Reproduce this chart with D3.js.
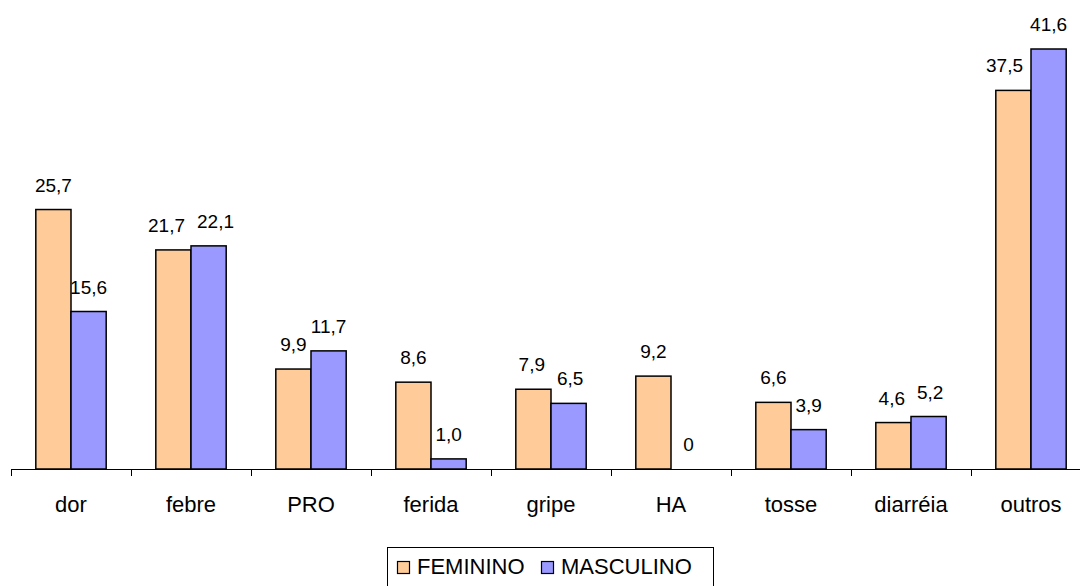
<!DOCTYPE html>
<html><head><meta charset="utf-8">
<script src="https://cdn.jsdelivr.net/npm/d3@7"></script>
<style>body{margin:0;background:#fff}svg{display:block}text{font-family:"Liberation Sans",Arial,sans-serif;fill:#000}</style>
</head><body>
<svg id="c" width="1080" height="586"></svg>
<script>
const categories = ["dor","febre","PRO","ferida","gripe","HA","tosse","diarréia","outros"];
const seriesNames = ["FEMININO","MASCULINO"];
const feminino = [25.7,21.7,9.9,8.6,7.9,9.2,6.6,4.6,37.5];
const masculino = [15.6,22.1,11.7,1.0,6.5,0,3.9,5.2,41.6];
const valueLabelsF = ["25,7","21,7","9,9","8,6","7,9","9,2","6,6","4,6","37,5"];
const valueLabelsM = ["15,6","22,1","11,7","1,0","6,5","0","3,9","5,2","41,6"];
const colors = ["#FFCC99","#9999FF"];

const svg = d3.select("#c");
const x0 = d3.scaleBand().domain(categories).range([11,1091]).padding(0);
const x1 = d3.scaleBand().domain(seriesNames).range([0,x0.bandwidth()]).paddingInner(0).paddingOuter(0.705);
const y = d3.scaleLinear().domain([0,45]).range([469, 469-45*10.096]);

const data = categories.map((c,i)=>({cat:c, vals:[
  {s:seriesNames[0], v:feminino[i], lab:valueLabelsF[i], col:colors[0]},
  {s:seriesNames[1], v:masculino[i], lab:valueLabelsM[i], col:colors[1]}]}));

const g = svg.append("g");
const grp = g.selectAll("g.grp").data(data).join("g").attr("transform",d=>`translate(${x0(d.cat)},0)`);
grp.selectAll("rect").data(d=>d.vals.filter(e=>e.v>0)).join("rect")
  .attr("x",d=>x1(d.s)).attr("width",x1.bandwidth())
  .attr("y",d=>y(d.v)).attr("height",d=>y(0)-y(d.v))
  .attr("fill",d=>d.col).attr("stroke","#000").attr("stroke-width",1.5);
const labs = grp.selectAll("text").data(d=>d.vals).join("text")
  .attr("x",d=>x1(d.s)+x1.bandwidth()/2).attr("y",d=>y(d.v)-18)
  .attr("text-anchor","middle").attr("font-size",19).text(d=>d.lab);

// simple label collision avoidance within each group
grp.each(function(d){
  const t = d3.select(this).selectAll("text").nodes();
  const bw = x1.bandwidth();
  const info = t.map((n,i)=>{const w=n.getComputedTextLength();const cx=+n.getAttribute("x");const base=+n.getAttribute("y");return {n,w,cx,top:base-14,bot:base+2};});
  const [a,b] = info;
  const vOverlap = a.top < b.bot && b.top < a.bot;
  if (vOverlap){
    const gap = (b.cx-b.w/2)-(a.cx+a.w/2);
    if (gap < 12){const s=(12-gap)/2; a.cx-=s; b.cx+=s;}
  } else {
    // fem label overlapping the taller masculine bar
    const barLeft = x1(seriesNames[1]);
    if (y(d.vals[1].v) < a.bot && a.cx + a.w/2 > barLeft-2) a.cx = barLeft - 8 - a.w/2;
  }
  info.forEach(o=>o.n.setAttribute("x",o.cx));
});

// axis
const axis = d3.axisBottom(x0).tickSize(0).tickPadding(0);
const ax = svg.append("g").attr("transform",`translate(0,${y(0)})`).call(axis);
ax.select(".domain").remove();
ax.selectAll("text").attr("font-size",22).attr("dy",null).attr("y",43).style("font-family",'"Liberation Sans",Arial,sans-serif');
svg.append("line").attr("x1",11).attr("x2",1080).attr("y1",y(0)+0.5).attr("y2",y(0)+0.5).attr("stroke","#000");
const bounds = d3.range(categories.length+1).map(i=>x0.range()[0]+i*x0.step());
svg.selectAll("line.tk").data(bounds.filter(b=>b<1080)).join("line").attr("class","tk")
  .attr("x1",d=>Math.round(d)+0.5).attr("x2",d=>Math.round(d)+0.5)
  .attr("y1",y(0)).attr("y2",y(0)+7).attr("stroke","#000");

// legend
const lg = svg.append("g");
lg.append("rect").attr("x",387.5).attr("y",547.5).attr("width",326).attr("height",50).attr("fill","#fff").attr("stroke","#000");
const items = [{n:seriesNames[0],c:colors[0],x:397},{n:seriesNames[1],c:colors[1],x:541}];
const li = lg.selectAll("g.it").data(items).join("g");
li.append("rect").attr("x",d=>d.x+0.5).attr("y",561.5).attr("width",12).attr("height",12).attr("fill",d=>d.c).attr("stroke","#000").attr("stroke-width",1.2);
li.append("text").attr("x",d=>d.x+20).attr("y",574).attr("font-size",22).text(d=>d.n);
</script>
</body></html>
